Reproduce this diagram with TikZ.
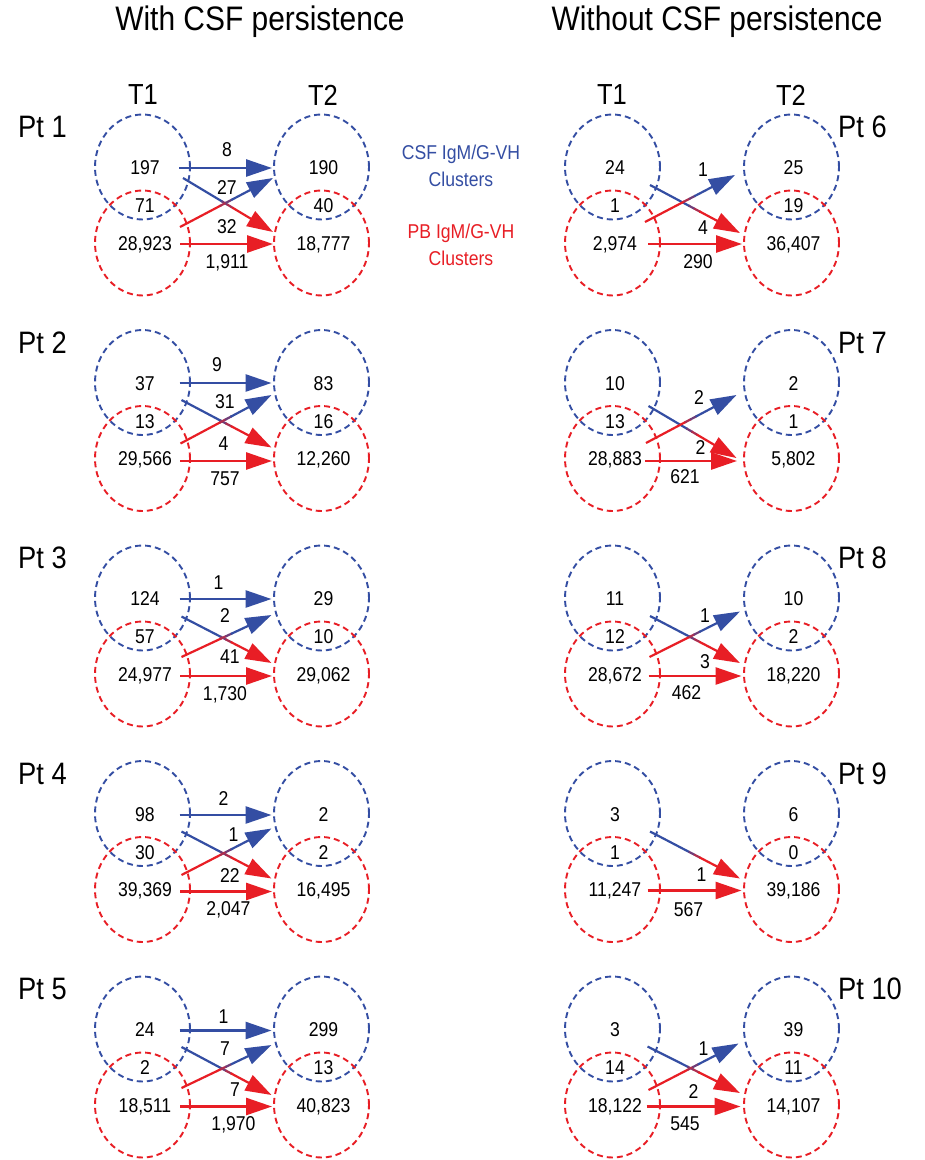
\documentclass[tikz,border=0pt]{standalone}
\usepackage{fontspec}
\setmainfont{Liberation Sans}[FakeStretch=0.88]
\usetikzlibrary{shapes.geometric,arrows.meta,calc}
\definecolor{csfblue}{RGB}{52,78,163}
\definecolor{pbred}{RGB}{232,30,37}
\tikzset{
  cell/.style={ellipse,draw,dash pattern=on 6pt off 4pt,line width=1.9pt,minimum width=95pt,minimum height=105pt,inner sep=0pt},
  csfell/.style={cell,draw=csfblue},
  pbell/.style={cell,draw=pbred},
  num/.style={font=\fontsize{20}{24}\selectfont,inner sep=0pt},
  ttl/.style={font=\fontsize{34}{40}\selectfont,inner sep=0pt},
  tlab/.style={font=\fontsize{29}{34}\selectfont,inner sep=0pt},
  ptlab/.style={font=\fontsize{31}{36}\selectfont,inner sep=0pt,anchor=west},
  legend/.style={font=\fontsize{20}{27}\selectfont,inner sep=0pt,align=center},
  tip/.style={-{Triangle[length=26pt,width=17pt]}},
  hline/.style={line width=2.7pt,tip},
  dline/.style={line width=2.2pt},
}
% panel: id, cx, cy, six numbers
\newcommand\vpanel[9]{%
  \node[csfell] (#1ab) at (#2,#3) {};
  \node[pbell]  (#1ar) at (#2,#3+76) {};
  \node[csfell] (#1bb) at (#2+179,#3) {};
  \node[pbell]  (#1br) at (#2+179,#3+76) {};
  \node[num] (#1an1) at (#2+2.5,#3+1) {#4};
  \node[num] (#1an2) at (#2+2.5,#3+39) {#5};
  \node[num] (#1an3) at (#2+2.5,#3+77.5) {#6};
  \node[num] (#1bn1) at (#2+181,#3+1) {#7};
  \node[num] (#1bn2) at (#2+181,#3+39) {#8};
  \node[num] (#1bn3) at (#2+181,#3+77.5) {#9};
}
% straight arrow: id, x1, y1, x2, y2, colour
\newcommand\hconn[6]{%
  \coordinate (#1s) at (#2,#3);
  \coordinate (#1e) at (#4,#5);
  \draw[hline,#6] (#1s) -- (#1e);
}
% colour-changing diagonal arrow: id, x1, y1, x2, y2, start colour, end colour
\newcommand\gconn[7]{%
  \coordinate (#1s) at (#2,#3);
  \coordinate (#1e) at (#4,#5);
  \draw[dline,#6] (#1s) -- ($(#1s)!0.44!(#1e)$);
  \draw[dline,#6!67!#7] ($(#1s)!0.43!(#1e)$) -- ($(#1s)!0.50!(#1e)$);
  \draw[dline,#6!33!#7] ($(#1s)!0.49!(#1e)$) -- ($(#1s)!0.56!(#1e)$);
  \draw[dline,tip,#7] ($(#1s)!0.55!(#1e)$) -- (#1e);
}
\begin{document}
\begin{tikzpicture}[x=1pt,y=-1pt]
\fill[white] (0,0) rectangle (925,1160);
\useasboundingbox (0,0) rectangle (925,1160);

% headings
\node[ttl] (ttlA) at (260,22) {With CSF persistence};
\node[ttl] (ttlB) at (717,22) {Without CSF persistence};
\node[tlab] (tA1) at (143,95) {T1};
\node[tlab] (tA2) at (323,95) {T2};
\node[tlab] (tB1) at (612,95) {T1};
\node[tlab] (tB2) at (791,95) {T2};

% patient labels
\node[ptlab] (pt1) at (18,127) {Pt 1};
\node[ptlab] (pt2) at (18,342.5) {Pt 2};
\node[ptlab] (pt3) at (18,558) {Pt 3};
\node[ptlab] (pt4) at (18,773.5) {Pt 4};
\node[ptlab] (pt5) at (18,989) {Pt 5};
\node[ptlab] (pt6) at (838,127) {Pt 6};
\node[ptlab] (pt7) at (838,342.5) {Pt 7};
\node[ptlab] (pt8) at (838,558) {Pt 8};
\node[ptlab] (pt9) at (838,773.5) {Pt 9};
\node[ptlab] (pt10) at (838,989) {Pt 10};

% legend
\node[legend,text=csfblue] (legA) at (461,166) {CSF IgM/G-VH\\Clusters};
\node[legend,text=pbred] (legB) at (461,245) {PB IgM/G-VH\\Clusters};

% ---------- left column ----------
\vpanel{p1}{142.5}{167}{197}{71}{28,923}{190}{40}{18,777}
\hconn{p1h1}{179}{168}{272}{168}{csfblue}
\gconn{p1d1}{183}{178}{273}{232}{csfblue}{pbred}
\gconn{p1d2}{180}{227}{273}{178}{pbred}{csfblue}
\hconn{p1h2}{180}{244}{273}{244}{pbred}
\node[num] (p1l1) at (227,150) {8};
\node[num] (p1l2) at (227,188) {27};
\node[num] (p1l3) at (227,227) {32};
\node[num] (p1l4) at (227,263) {1,911};

\vpanel{p2}{142.5}{382.5}{37}{13}{29,566}{83}{16}{12,260}
\hconn{p2h1}{179.5}{383}{271.5}{383}{csfblue}
\gconn{p2d1}{181.5}{400}{271.5}{447.5}{csfblue}{pbred}
\gconn{p2d2}{180.5}{443.5}{271.5}{395}{pbred}{csfblue}
\hconn{p2h2}{180}{461}{272}{461}{pbred}
\node[num] (p2l1) at (217,365) {9};
\node[num] (p2l2) at (225,401.5) {31};
\node[num] (p2l3) at (223.5,443.5) {4};
\node[num] (p2l4) at (225,478.5) {757};

\vpanel{p3}{142.5}{598}{124}{57}{24,977}{29}{10}{29,062}
\hconn{p3h1}{179.5}{599}{271.5}{599}{csfblue}
\gconn{p3d1}{181.5}{616.5}{271.5}{663}{csfblue}{pbred}
\gconn{p3d2}{181.5}{657}{271.5}{615}{pbred}{csfblue}
\hconn{p3h2}{180}{676}{272}{676}{pbred}
\node[num] (p3l1) at (218.5,582.5) {1};
\node[num] (p3l2) at (225,616) {2};
\node[num] (p3l3) at (230,656.5) {41};
\node[num] (p3l4) at (225,695) {1,730};

\vpanel{p4}{142.5}{813.5}{98}{30}{39,369}{2}{2}{16,495}
\hconn{p4h1}{179.5}{815}{271.5}{815}{csfblue}
\gconn{p4d1}{181.5}{831.5}{271.5}{878.5}{csfblue}{pbred}
\gconn{p4d2}{181.5}{875}{271.5}{828.5}{pbred}{csfblue}
\hconn{p4h2}{180}{891.5}{272}{891.5}{pbred}
\node[num] (p4l1) at (223.5,798.5) {2};
\node[num] (p4l2) at (233.5,835) {1};
\node[num] (p4l3) at (230,876) {22};
\node[num] (p4l4) at (228.5,910) {2,047};

\vpanel{p5}{142.5}{1029}{24}{2}{18,511}{299}{13}{40,823}
\hconn{p5h1}{179.5}{1030.5}{271.5}{1030.5}{csfblue}
\gconn{p5d1}{181.5}{1047}{271.5}{1095}{csfblue}{pbred}
\gconn{p5d2}{181.5}{1088}{271.5}{1045}{pbred}{csfblue}
\hconn{p5h2}{180}{1106.5}{272}{1106.5}{pbred}
\node[num] (p5l1) at (223.5,1016.5) {1};
\node[num] (p5l2) at (225,1048.5) {7};
\node[num] (p5l3) at (235,1090) {7};
\node[num] (p5l4) at (233.5,1125) {1,970};

% ---------- right column ----------
\vpanel{p6}{612.5}{167}{24}{1}{2,974}{25}{19}{36,407}
\gconn{p6d1}{650}{185}{740}{233}{csfblue}{pbred}
\gconn{p6d2}{645}{222}{735}{175}{pbred}{csfblue}
\hconn{p6h2}{648}{244}{742}{244}{pbred}
\node[num] (p6l2) at (703,170) {1};
\node[num] (p6l3) at (703,228) {4};
\node[num] (p6l4) at (698,262) {290};

\vpanel{p7}{612.5}{382.5}{10}{13}{28,883}{2}{1}{5,802}
\gconn{p7d1}{648.5}{406}{736.5}{458}{csfblue}{pbred}
\gconn{p7d2}{646}{443}{736.5}{395}{pbred}{csfblue}
\hconn{p7h2}{645}{461}{737}{461}{pbred}
\node[num] (p7l2) at (699,398) {2};
\node[num] (p7l3) at (700.5,448) {2};
\node[num] (p7l4) at (685,477) {621};

\vpanel{p8}{612.5}{598}{11}{12}{28,672}{10}{2}{18,220}
\gconn{p8d1}{650}{616}{740}{663}{csfblue}{pbred}
\gconn{p8d2}{649.5}{657}{740}{611.5}{pbred}{csfblue}
\hconn{p8h2}{648.5}{676}{741.5}{676}{pbred}
\node[num] (p8l2) at (705,616) {1};
\node[num] (p8l3) at (705,661.5) {3};
\node[num] (p8l4) at (686.5,693) {462};

\vpanel{p9}{612.5}{813.5}{3}{1}{11,247}{6}{0}{39,186}
\gconn{p9d1}{650}{831.5}{740}{878.5}{csfblue}{pbred}
\hconn{p9h2}{647.5}{890.5}{741.5}{890.5}{pbred}
\node[num] (p9l3) at (701.5,875) {1};
\node[num] (p9l4) at (688.5,910) {567};

\vpanel{p10}{612.5}{1029}{3}{14}{18,122}{39}{11}{14,107}
\gconn{p10d1}{647.5}{1046.5}{740}{1093}{csfblue}{pbred}
\gconn{p10d2}{648.5}{1090}{738.5}{1043.5}{pbred}{csfblue}
\hconn{p10h2}{646.5}{1106.5}{740.5}{1106.5}{pbred}
\node[num] (p10l2) at (703.5,1048.5) {1};
\node[num] (p10l3) at (693.5,1091.5) {2};
\node[num] (p10l4) at (685,1124) {545};
\end{tikzpicture}
\end{document}
